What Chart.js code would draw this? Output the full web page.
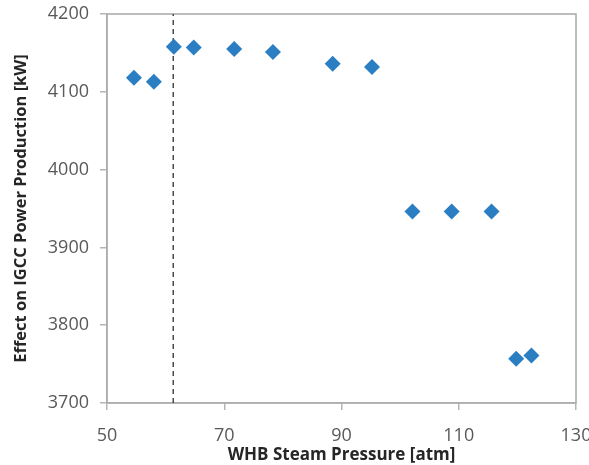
<!DOCTYPE html>
<html>
<head>
<meta charset="utf-8">
<script src="https://cdn.jsdelivr.net/npm/chart.js@4/dist/chart.umd.min.js"></script>
<style>
  html, body { margin: 0; padding: 0; background: #fff; }
  #wrap { width: 589px; height: 465px; }
</style>
</head>
<body>
<div id="wrap"><canvas id="chart" width="589" height="465"></canvas></div>
<script>
// steam pressure in the waste heat boiler vs. change in IGCC net power
const pressure = [54.6, 58.0, 61.4, 64.8, 71.7, 78.3, 88.5, 95.2, 102.1, 108.8, 115.6, 119.8, 122.4];
const powerEffect = [4118, 4113, 4158, 4157, 4155, 4151, 4136, 4132, 3946, 3946, 3946, 3757, 3761];

// reference pressure marked with the dashed line
const refPressure = 61.3;

const xTicks = [50, 70, 90, 110, 130];
const yTicks = [3700, 3800, 3900, 4000, 4100, 4200];

const fontFamily = '"Open Sans", "Liberation Sans", sans-serif';

// box around the plot area (top and right edges too)
const frame = {
    id: 'frame',
    beforeDatasetsDraw(chart) {
        const { ctx, chartArea: a } = chart;
        ctx.save();
        ctx.strokeStyle = '#a8a8a8';
        ctx.lineWidth = 1.5;
        ctx.strokeRect(a.left, a.top, a.right - a.left, a.bottom - a.top);
        ctx.restore();
    }
};

const points = pressure.map((p, i) => ({ x: p, y: powerEffect[i] }));

new Chart(document.getElementById('chart'), {
    type: 'scatter',
    data: {
        datasets: [
            {
                data: points,
                pointStyle: 'rectRot',
                pointRadius: 8,
                pointHoverRadius: 8,
                backgroundColor: '#2B7EC1',
                borderColor: '#2B7EC1',
                borderWidth: 0,
                order: 1
            },
            {
                type: 'line',
                data: [{ x: refPressure, y: yTicks[0] }, { x: refPressure, y: yTicks[yTicks.length - 1] }],
                borderColor: '#4a4a4a',
                borderWidth: 1.5,
                borderDash: [5, 4],
                pointRadius: 0,
                fill: false,
                order: 2
            }
        ]
    },
    options: {
        responsive: false,
        animation: false,
        layout: { padding: { left: 0, top: 14, right: 13, bottom: 0 } },
        plugins: {
            legend: { display: false },
            tooltip: { enabled: false }
        },
        scales: {
            x: {
                type: 'linear',
                min: 50,
                max: 130,
                afterBuildTicks: s => { s.ticks = xTicks.map(v => ({ value: v })); },
                afterFit: s => { s.height = 62; s.paddingLeft = 0; s.paddingRight = 0; },
                border: { color: '#bfbfbf', width: 1.5 },
                grid: { drawOnChartArea: false, tickLength: 7, color: '#b5b5b5', lineWidth: 1.5 },
                ticks: {
                    color: '#595959',
                    padding: 15,
                    maxRotation: 0,
                    font: { family: fontFamily, size: 18 },
                    callback: v => String(v)
                },
                title: {
                    display: true,
                    text: 'WHB Steam Pressure [atm]',
                    color: '#262626',
                    padding: { top: 0, bottom: 0 },
                    font: { family: fontFamily, size: 17, weight: 'bold' }
                }
            },
            y: {
                type: 'linear',
                min: 3700,
                max: 4200,
                afterBuildTicks: s => { s.ticks = yTicks.map(v => ({ value: v })); },
                afterFit: s => { s.width = 107; s.paddingTop = 0; s.paddingBottom = 0; },
                border: { color: '#bfbfbf', width: 1.5 },
                grid: { drawOnChartArea: false, tickLength: 7, color: '#b5b5b5', lineWidth: 1.5 },
                ticks: {
                    color: '#595959',
                    padding: 11,
                    font: { family: fontFamily, size: 18 },
                    callback: v => String(v)
                },
                title: {
                    display: true,
                    text: 'Effect on IGCC Power Production [kW]',
                    color: '#262626',
                    padding: { top: 11, bottom: 0 },
                    font: { family: fontFamily, size: 16.5, weight: 'bold' }
                }
            }
        }
    },
    plugins: [frame]
});
</script>
</body>
</html>
